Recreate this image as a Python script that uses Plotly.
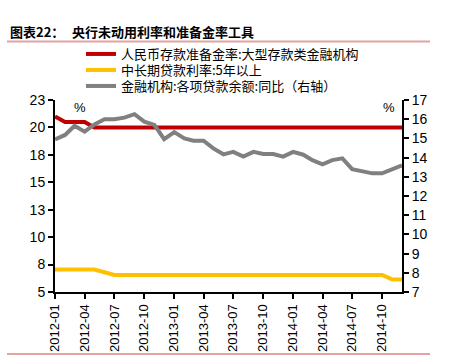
import plotly.graph_objects as go
import pandas as pd

months = pd.date_range("2012-01-01", "2014-12-01", freq="MS")

reserve_ratio = [21.0, 20.5, 20.5, 20.5] + [20.0] * 32
loan_rate = [7.05] * 5 + [6.80] + [6.55] * 28 + [6.15, 6.15]
loan_growth = [14.95, 15.18, 15.66, 15.35, 15.73, 16.0, 16.0, 16.08, 16.26, 15.87, 15.7, 14.96,
               15.33, 15.0, 14.88, 14.88, 14.48, 14.17, 14.3, 14.05, 14.3, 14.19, 14.19, 14.05,
               14.3, 14.15, 13.87, 13.65, 13.87, 13.96, 13.4, 13.3, 13.18, 13.18, 13.4, 13.6]

names = ["人民币存款准备金率:大型存款类金融机构", "中长期贷款利率:5年以上", "金融机构:各项贷款余额:同比（右轴）"]
left_ticks = [5, 7.5, 10, 12.5, 15, 17.5, 20, 22.5]
left_labels = ["5", "8", "10", "13", "15", "18", "20", "23"]

L, R, T, B = 55, 402, 100, 292
W, H = R - L, B - T


def px(x):
    return (x - L) / W


def py(y):
    return (B - y) / H


fig = go.Figure()
fig.add_trace(go.Scatter(x=months, y=reserve_ratio, name=names[0], mode="lines", legend="legend",
                         line=dict(color="#C00000", width=4)))
fig.add_trace(go.Scatter(x=months, y=loan_rate, name=names[1], mode="lines", legend="legend2",
                         line=dict(color="#FFC000", width=4)))
fig.add_trace(go.Scatter(x=months, y=loan_growth, name=names[2], mode="lines", yaxis="y2", legend="legend3",
                         line=dict(color="#808080", width=4)))

axis_font = dict(family="Liberation Sans, Arial", size=14, color="#000")
leg_font = dict(family="Noto Sans CJK SC", size=13, color="#000")


def leg(yc):
    return dict(x=px(81), y=py(yc), xanchor="left", yanchor="middle", bgcolor="rgba(0,0,0,0)",
                itemwidth=30, font=leg_font)


fig.update_layout(
    width=466, height=360,
    margin=dict(l=L, r=466 - R, t=T, b=360 - B, autoexpand=False),
    paper_bgcolor="white", plot_bgcolor="white",
    showlegend=True,
    legend=leg(54), legend2=leg(70), legend3=leg(86),
    xaxis=dict(type="date", range=["2012-01-01", "2014-12-01"], tick0="2012-01-01", dtick="M3",
               tickformat="%Y-%m", tickangle=-90, showgrid=False, zeroline=False, automargin=False,
               showline=True, linecolor="#000", linewidth=2, ticks="outside", ticklen=5,
               tickcolor="#000", tickwidth=2, tickfont=dict(family="Liberation Sans, Arial", size=13, color="#000")),
    yaxis=dict(range=[5, 22.5], tickvals=left_ticks, ticktext=left_labels, showgrid=False, zeroline=False,
               automargin=False,
               showline=True, linecolor="#000", linewidth=2, ticks="outside", ticklen=5,
               tickcolor="#000", tickwidth=2, tickfont=axis_font),
    yaxis2=dict(range=[7, 17], dtick=1, overlaying="y", side="right", showgrid=False, zeroline=False,
                automargin=False,
                showline=True, linecolor="#000", linewidth=2, ticks="outside", ticklen=5,
                tickcolor="#000", tickwidth=2, tickfont=axis_font),
    font=dict(family="Liberation Sans, Arial", color="#000"),
)

fig.add_annotation(text="<b>图表22：</b>", x=px(8), y=py(32), xref="paper", yref="paper",
                   xanchor="left", yanchor="middle", showarrow=False,
                   font=dict(family="Noto Sans CJK SC", size=13, color="#000"))
fig.add_annotation(text="<b>央行未动用利率和准备金率工具</b>", x=px(70), y=py(32),
                   xref="paper", yref="paper", xanchor="left", yanchor="middle", showarrow=False,
                   font=dict(family="Noto Sans CJK SC", size=13, color="#000"))
fig.add_annotation(text="%", x=px(80), y=py(107), xref="paper", yref="paper", xanchor="center", yanchor="middle",
                   showarrow=False, font=dict(family="Liberation Sans, Arial", size=13, color="#000"))
fig.add_annotation(text="%", x=px(389), y=py(107), xref="paper", yref="paper", xanchor="center", yanchor="middle",
                   showarrow=False, font=dict(family="Liberation Sans, Arial", size=13, color="#000"))

for yy in (41.5, 354):
    fig.add_shape(type="line", xref="paper", yref="paper", x0=px(7), x1=px(430),
                  y0=py(yy), y1=py(yy), line=dict(color="#E3A3A0", width=2))

fig.write_html("out.html", config={"displayModeBar": False},
               post_script="document.body.style.margin='0';")
